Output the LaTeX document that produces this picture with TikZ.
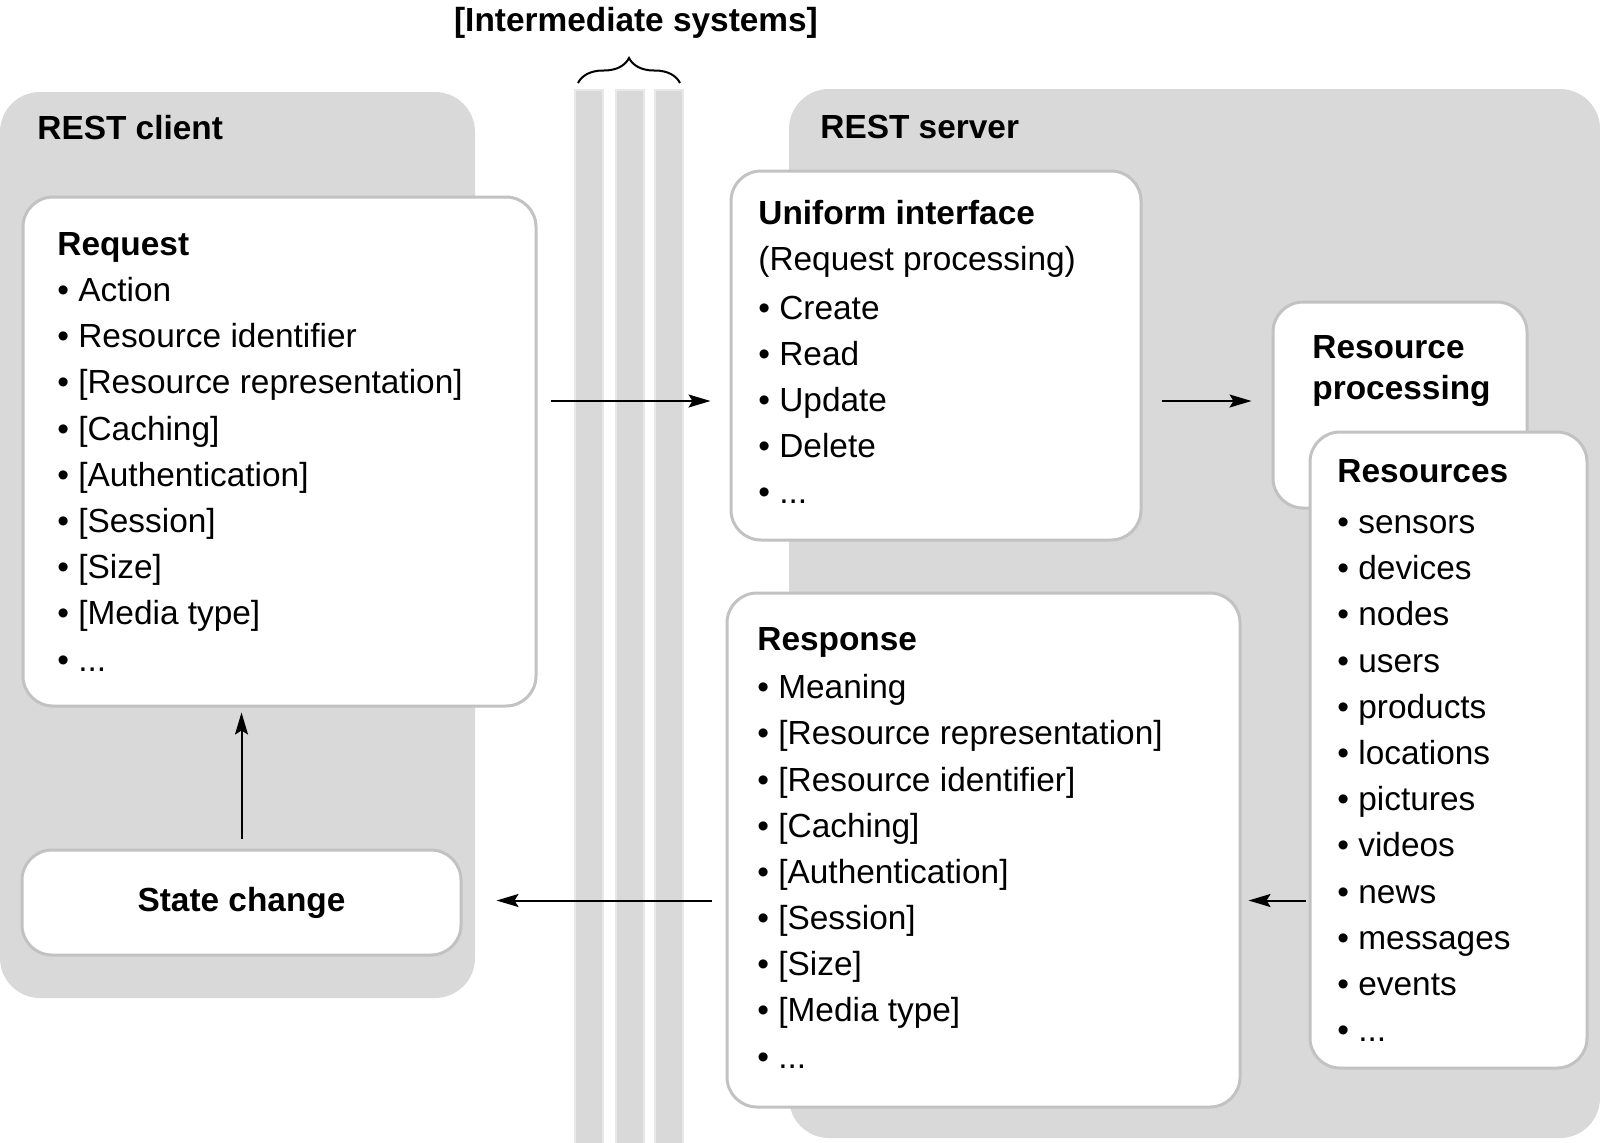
\documentclass[tikz,border=0pt]{standalone}
\usepackage{fontspec}
\setmainfont{Liberation Sans}
\usetikzlibrary{positioning}
\usetikzlibrary{arrows.meta}
\usetikzlibrary{fit}
\usetikzlibrary{decorations.pathreplacing}

\definecolor{areaGray}{HTML}{D9D9D9}
\definecolor{edgeGray}{HTML}{C2C2C2}

\tikzset{
  area/.style={fill=areaGray, draw=none, rounded corners=20pt, inner sep=0pt},
  box/.style={fill=white, draw=edgeGray, line width=1.5pt, rounded corners=15pt, inner sep=0pt},
  stripe/.style={fill=areaGray, draw=areaGray!60, line width=0.8pt},
  itemList/.style={anchor=north west, inner sep=0pt, align=left, font=\fontsize{16.7}{23.1}\selectfont},
  headText/.style={anchor=base west, inner sep=0pt, font=\fontsize{16.7}{20.5}\selectfont\bfseries},
  arr/.style={-{Stealth[length=11pt,width=6.5pt,inset=2pt]}, line width=1pt},
}

\begin{document}
\begin{tikzpicture}[x=0.5pt, y=-0.5pt]
  \useasboundingbox (0,0) rectangle (1600,1142);

  % client and server areas, intermediate systems
  \node[area, fit={(0,92) (475,998)}] (clientArea) {};
  \node[area, fit={(789,89) (1600,1138)}] (serverArea) {};
  \foreach \x in {575,616,655}
    \filldraw[stripe] (\x,90) rectangle ++(28,1060);

  \node[headText] (clientLabel) at (37,139) {REST client};
  \node[headText] (serverLabel) at (820,138) {REST server};
  \node[headText, anchor=base] (intermediateLabel) at (636,31) {[Intermediate systems]};
  \draw[line width=1pt, decorate, decoration={brace, amplitude=12.5pt}] (578,83) -- (680,83);

  % boxes
  \node[box, fit={(23,197) (536,706)}] (request) {};
  \node[box, fit={(22,850) (461,955)}] (stateChange) {};
  \node[headText, anchor=center] (stateText) at (stateChange.center) {State change};
  \node[box, fit={(731,171) (1141,540)}] (uniformInterface) {};
  \node[box, fit={(727,593) (1240,1107)}] (response) {};
  \node[box, fit={(1273,302) (1527,508)}] (resourceProcessing) {};
  \node[box, fit={(1310,432) (1587,1068)}] (resources) {};

  % box texts
  \node[itemList] (requestText) at (57,232) {\textbf{Request}\\• Action\\• Resource identifier\\• [Resource representation]\\• [Caching]\\• [Authentication]\\• [Session]\\• [Size]\\• [Media type]\\• ...};
  \node[itemList] (uniformText) at (758,200) {\textbf{Uniform interface}\\(Request processing)\\[1pt]• Create\\• Read\\• Update\\• Delete\\• ...};
  \node[itemList, font=\fontsize{16.7}{20.5}\selectfont\bfseries] (processingText) at (1312,335) {Resource\\processing};
  \node[itemList] (resourcesText) at (1337,459) {\textbf{Resources}\\[2.5pt]• sensors\\• devices\\• nodes\\• users\\• products\\• locations\\• pictures\\• videos\\• news\\• messages\\• events\\• ...};
  \node[itemList] (responseText) at (757,627) {\textbf{Response}\\[1pt]• Meaning\\• [Resource representation]\\• [Resource identifier]\\• [Caching]\\• [Authentication]\\• [Session]\\• [Size]\\• [Media type]\\• ...};

  % arrows
  \coordinate (requestRow) at (0,401);
  \coordinate (responseRow) at (0,900.5);
  \draw[arr] ([xshift=6.5pt]request.east |- requestRow) -- ([xshift=-9.5pt]uniformInterface.west |- requestRow);
  \draw[arr] ([xshift=9.5pt]uniformInterface.east |- requestRow) -- ([xshift=-10pt]resourceProcessing.west |- requestRow);
  \draw[arr] ([xshift=-1.5pt]resources.west |- responseRow) -- ([xshift=3.5pt]response.east |- responseRow);
  \draw[arr] ([xshift=-7pt]response.west |- responseRow) -- ([xshift=17pt]stateChange.east |- responseRow);
  \draw[arr] ([yshift=5pt]stateChange.north) -- ([yshift=-2.5pt]stateChange.north |- request.south);
\end{tikzpicture}
\end{document}
